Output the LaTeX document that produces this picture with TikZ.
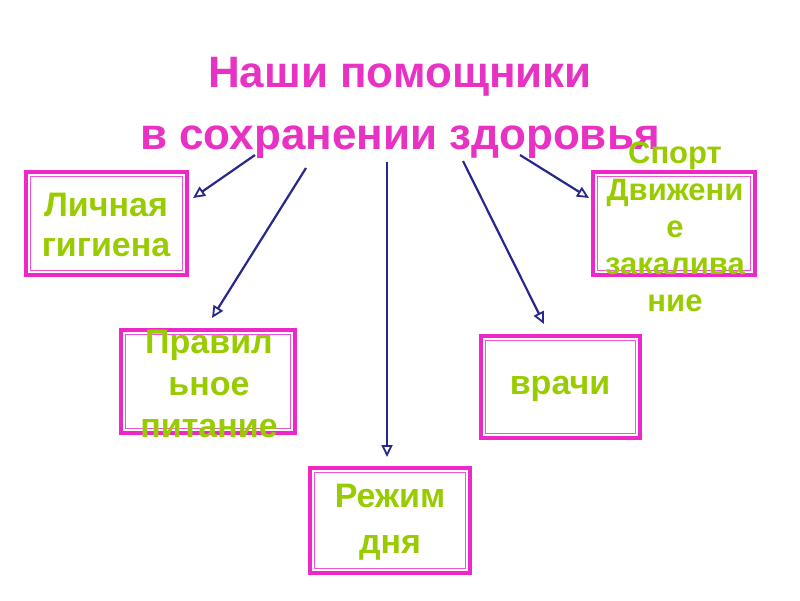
\documentclass[tikz,border=0pt]{standalone}
\usepackage{fontspec}
\setmainfont{Liberation Sans}
\usetikzlibrary{arrows.meta}
\definecolor{titlemag}{RGB}{232,50,195}
\definecolor{boxmag}{RGB}{238,40,200}
\definecolor{leafgreen}{RGB}{153,204,0}
\definecolor{arrownavy}{RGB}{40,40,140}
\tikzset{
  boxframe/.style={draw=boxmag, line width=3.4pt},
  innerframe/.style={draw=boxmag!80, line width=1.2pt},
  leaftext/.style={text=leafgreen, font=\bfseries\fontsize{34}{#1}\selectfont, align=center, inner sep=0pt},
  leaftext/.default=40,
  titletext/.style={text=titlemag, font=\bfseries\fontsize{44}{62}\selectfont, align=center, inner sep=0pt},
  conn/.style={draw=arrownavy, line width=2.2pt, -{Triangle[open, length=12pt, width=11pt, line width=1.8pt]}}
}
\newcommand{\bbox}[5]{% name, x1, y1, x2, y2
  \path[boxframe] (#2,#3) rectangle (#4,#5);
  \coordinate (#1) at ({(#2+#4)/2},{(#3+#5)/2});
  \draw[innerframe] ({#2+4.5},{#3+4.5}) rectangle ({#4-4.5},{#5-4.5});
}
\begin{document}
\begin{tikzpicture}[x=1pt,y=-1pt]
\useasboundingbox (0,0) rectangle (800,600);
\fill[white] (0,0) rectangle (800,600);
% title
\node[titletext] (title) at (400,108) {Наши помощники\\в сохранении здоровья};
% boxes
\bbox{bl}{26}{172}{187}{275}
\bbox{bp}{121}{330}{295}{433}
\bbox{bs}{593}{172}{755}{275}
\bbox{br}{310}{468}{470}{573}
\bbox{bv}{481}{336}{640}{438}
% texts
\node[leaftext=40] (tl) at (106,225) {Личная\\гигиена};
\node[leaftext=42] (tp) at (209,384) {Правил\\ьное\\питание};
\node[leaftext=37, font=\bfseries\fontsize{31}{37}\selectfont] (ts) at (675,227) {Спорт\\Движени\\е\\закалива\\ние};
\node[leaftext=46] (tr) at (390,522) {Режим\\дня};
\node[leaftext] (tv) at (560,389) {врачи};
% connector endpoints
\coordinate (s1) at (255,155);
\coordinate (e1) at (193,198);
\coordinate (s2) at (306,168);
\coordinate (e2) at (212,318);
\coordinate (s3) at (387,162);
\coordinate (e3) at (387,457);
\coordinate (s4) at (463,161);
\coordinate (e4) at (544,324);
\coordinate (s5) at (520,155);
\coordinate (e5) at (589,198);
\draw[conn] (s1) -- (e1);
\draw[conn] (s2) -- (e2);
\draw[conn] (s3) -- (e3);
\draw[conn] (s4) -- (e4);
\draw[conn] (s5) -- (e5);
\end{tikzpicture}
\end{document}
